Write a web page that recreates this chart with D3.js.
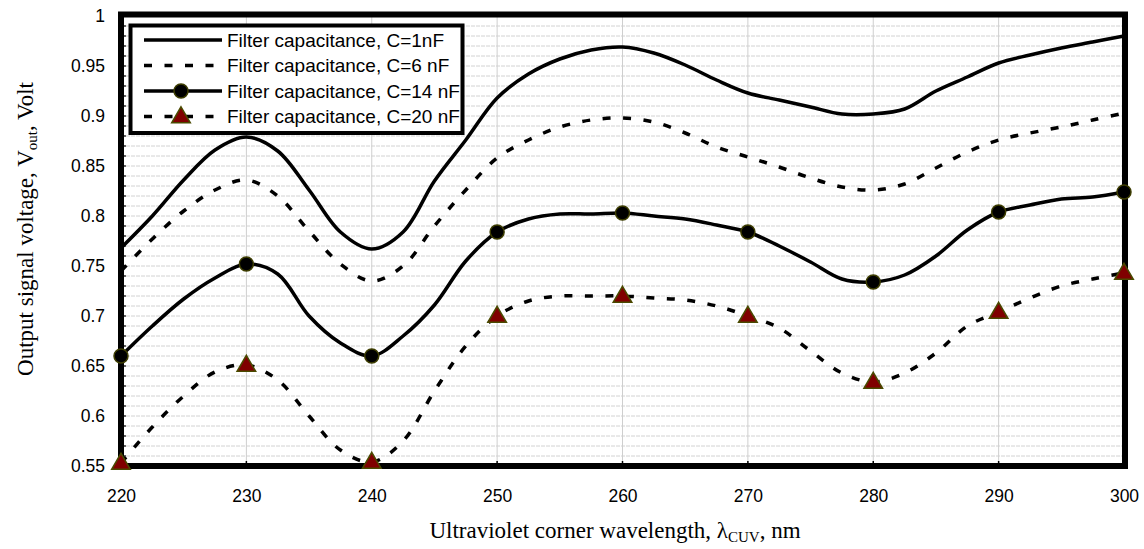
<!DOCTYPE html>
<html>
<head>
<meta charset="utf-8">
<script src="https://cdn.jsdelivr.net/npm/d3@7"></script>
<style>
  html, body { margin: 0; padding: 0; background: #fff; }
  svg { display: block; }
</style>
</head>
<body>
<svg id="chart" width="1144" height="549"></svg>
<script>
// Wavelength samples (nm) shared by all series
const wavelengths = [220, 222.5, 225, 227.5, 230, 232.5, 235, 237.5, 240, 242.5, 245, 247.5,
  250, 252.5, 255, 257.5, 260, 262.5, 265, 267.5, 270, 272.5, 275, 277.5, 280, 282.5,
  285, 287.5, 290, 292.5, 295, 297.5, 300];

// Output signal voltage (V) for each filter capacitance
const vC1 = [0.768, 0.800, 0.836, 0.866, 0.879, 0.865, 0.826, 0.784, 0.767, 0.784, 0.835, 0.876,
  0.918, 0.942, 0.957, 0.966, 0.969, 0.963, 0.951, 0.936, 0.923, 0.916, 0.909, 0.902, 0.902, 0.907,
  0.925, 0.939, 0.953, 0.961, 0.968, 0.974, 0.980];
const vC6 = [0.745, 0.777, 0.805, 0.826, 0.836, 0.820, 0.785, 0.752, 0.735, 0.750, 0.790, 0.826,
  0.858, 0.876, 0.889, 0.896, 0.898, 0.894, 0.883, 0.869, 0.859, 0.849, 0.838, 0.829, 0.826, 0.832,
  0.848, 0.864, 0.876, 0.883, 0.889, 0.896, 0.903];
const vC14 = [0.660, 0.690, 0.717, 0.738, 0.752, 0.742, 0.700, 0.673, 0.660, 0.680, 0.711, 0.755,
  0.784, 0.797, 0.802, 0.802, 0.803, 0.800, 0.797, 0.791, 0.784, 0.770, 0.754, 0.737, 0.734, 0.741,
  0.760, 0.786, 0.804, 0.811, 0.817, 0.819, 0.824];
const vC20 = [0.553, 0.589, 0.620, 0.644, 0.651, 0.636, 0.600, 0.566, 0.554, 0.575, 0.625, 0.670,
  0.700, 0.715, 0.720, 0.720, 0.720, 0.718, 0.716, 0.710, 0.700, 0.688, 0.665, 0.643, 0.634, 0.643,
  0.663, 0.690, 0.704, 0.718, 0.730, 0.737, 0.743];

const seriesNames = ["Filter capacitance, C=1nF", "Filter capacitance, C=6 nF",
  "Filter capacitance, C=14 nF", "Filter capacitance, C=20 nF"];

const xTicks = [220, 230, 240, 250, 260, 270, 280, 290, 300];
const yTicks = [0.55, 0.6, 0.65, 0.7, 0.75, 0.8, 0.85, 0.9, 0.95, 1];
const yTickLabels = ["0.55", "0.6", "0.65", "0.7", "0.75", "0.8", "0.85", "0.9", "0.95", "1"];

const svg = d3.select("#chart");
const x = d3.scaleLinear().domain([220, 300]).range([121, 1124]);
const y = d3.scaleLinear().domain([0.55, 1]).range([466, 16]);

const sans = "'Liberation Sans', Arial, sans-serif";
const serif = "'Liberation Serif', 'Times New Roman', serif";

// Gridlines: fine horizontal every 0.01 V, vertical every 10 nm
const gridG = svg.append("g");
gridG.selectAll("line.h").data(d3.range(56, 100).map(d => d / 100))
  .join("line")
  .attr("x1", x(220)).attr("x2", x(300))
  .attr("y1", d => y(d)).attr("y2", d => y(d))
  .attr("stroke", "#d2d2d2").attr("stroke-width", 1)
  .attr("stroke-dasharray", "4,1");
gridG.selectAll("line.v").data(xTicks.slice(1, -1))
  .join("line")
  .attr("x1", d => x(d)).attr("x2", d => x(d))
  .attr("y1", y(1)).attr("y2", y(0.55))
  .attr("stroke", "#cfcfcf").attr("stroke-width", 1);

// Small inward tick marks
svg.append("g").selectAll("line").data(d3.range(56, 100).map(d => d / 100))
  .join("line")
  .attr("x1", x(220)).attr("x2", x(220) + 5)
  .attr("y1", d => y(d)).attr("y2", d => y(d))
  .attr("stroke", "#000").attr("stroke-width", 1.2);
svg.append("g").selectAll("line").data(xTicks.slice(1, -1))
  .join("line")
  .attr("x1", d => x(d)).attr("x2", d => x(d))
  .attr("y1", y(0.55)).attr("y2", y(0.55) - 5)
  .attr("stroke", "#000").attr("stroke-width", 1.5);

// Lines
const line = d3.line()
  .x((d, i) => x(wavelengths[i]))
  .y(d => y(d))
  .curve(d3.curveCatmullRom.alpha(0.5));

const dash = "8,12.5";
const styles = [
  { values: vC1, dash: null, marker: null },
  { values: vC6, dash: dash, marker: null },
  { values: vC14, dash: null, marker: "circle" },
  { values: vC20, dash: dash, marker: "triangle" }
];

const linesG = svg.append("g");
styles.forEach(s => {
  linesG.append("path")
    .attr("d", line(s.values))
    .attr("fill", "none")
    .attr("stroke", "#000")
    .attr("stroke-width", 3.5)
    .attr("stroke-linejoin", "round")
    .attr("stroke-dasharray", s.dash);
});

// Plot frame
svg.append("rect")
  .attr("x", x(220)).attr("y", y(1) - 1.5)
  .attr("width", x(300) - x(220) + 1).attr("height", y(0.55) - y(1) + 1.5)
  .attr("fill", "none").attr("stroke", "#000").attr("stroke-width", 6);

// Markers every 10 nm
const triangle = d3.symbol().type(d3.symbolTriangle).size(150);
function drawMarker(g, type, cx, cy) {
  if (type === "circle") {
    g.append("circle").attr("cx", cx).attr("cy", cy).attr("r", 7)
      .attr("fill", "#000").attr("stroke", "#3d3d00").attr("stroke-width", 1.5);
  } else if (type === "triangle") {
    g.append("path").attr("d", triangle)
      .attr("transform", `translate(${cx},${cy + 1})`)
      .attr("fill", "#800000").attr("stroke", "#4a4a00").attr("stroke-width", 1.5);
  }
}
const markersG = svg.append("g");
styles.forEach(s => {
  if (!s.marker) return;
  wavelengths.forEach((w, i) => {
    if (w % 10 === 0) drawMarker(markersG, s.marker, x(w), y(s.values[i]));
  });
});

// Axes with labels only
const yAxis = d3.axisLeft(y).tickValues(yTicks)
  .tickFormat((d, i) => yTickLabels[i]).tickSize(0).tickPadding(16);
const yg = svg.append("g").attr("transform", `translate(${x(220)},0)`).call(yAxis);
yg.select(".domain").remove();
yg.selectAll("text").attr("font-family", sans).attr("font-size", 17.5).attr("fill", "#000");

const xAxis = d3.axisBottom(x).tickValues(xTicks).tickFormat(d3.format("d"))
  .tickSize(0).tickPadding(24);
const xg = svg.append("g").attr("transform", `translate(0,${y(0.55)})`).call(xAxis);
xg.select(".domain").remove();
xg.selectAll("text").attr("font-family", sans).attr("font-size", 17.5).attr("fill", "#000");

// Axis titles
const yTitle = svg.append("text")
  .attr("transform", "translate(33,229) rotate(-90)")
  .attr("text-anchor", "middle")
  .attr("font-family", serif).attr("font-size", 23).attr("fill", "#000");
yTitle.append("tspan").text("Output signal voltage, V");
yTitle.append("tspan").attr("font-size", 15).attr("dy", 4).text("out");
yTitle.append("tspan").attr("dy", -4).text(", Volt");

const xTitle = svg.append("text")
  .attr("x", 615).attr("y", 538)
  .attr("text-anchor", "middle")
  .attr("font-family", serif).attr("font-size", 23).attr("fill", "#000");
xTitle.append("tspan").text("Ultraviolet corner wavelength, λ");
xTitle.append("tspan").attr("font-size", 15).attr("dy", 4).text("CUV");
xTitle.append("tspan").attr("dy", -4).text(", nm");

// Legend
const legend = svg.append("g");
legend.append("rect")
  .attr("x", 130.5).attr("y", 25.5).attr("width", 332).attr("height", 107.5)
  .attr("fill", "#fff").attr("stroke", "#000").attr("stroke-width", 4);
const rowY = [40, 65.5, 91, 116.5];
styles.forEach((s, i) => {
  legend.append("line")
    .attr("x1", 144).attr("x2", 222)
    .attr("y1", rowY[i]).attr("y2", rowY[i])
    .attr("stroke", "#000").attr("stroke-width", 3.5)
    .attr("stroke-dasharray", s.dash);
  if (s.marker) drawMarker(legend, s.marker, 181, rowY[i]);
  legend.append("text")
    .attr("x", 227).attr("y", rowY[i]).attr("dy", "0.35em")
    .attr("font-family", sans).attr("font-size", 19).attr("fill", "#000")
    .text(seriesNames[i]);
});
</script>
</body>
</html>
